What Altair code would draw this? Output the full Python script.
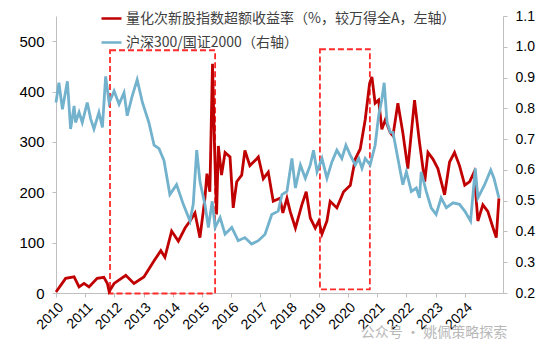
import altair as alt
import pandas as pd

red_label = "量化次新股指数超额收益率（%，较万得全A，左轴）"
blue_label = "沪深300/国证2000（右轴）"

red_year = [2010.00, 2010.33, 2010.62, 2010.79, 2010.96, 2011.13, 2011.41, 2011.64, 2011.76, 2011.82,
            2011.99, 2012.39, 2012.67, 2013.01, 2013.36, 2013.59, 2013.73, 2013.96, 2014.19, 2014.42,
            2014.59, 2014.76, 2014.93, 2015.10, 2015.17, 2015.27, 2015.36, 2015.43, 2015.50, 2015.56,
            2015.67, 2015.79, 2015.96, 2016.07, 2016.19, 2016.36, 2016.47, 2016.64, 2016.87, 2016.93,
            2017.10, 2017.27, 2017.44, 2017.67, 2017.77, 2017.91, 2018.02, 2018.20, 2018.42, 2018.57,
            2018.71, 2018.88, 2019.00, 2019.11, 2019.28, 2019.39, 2019.62, 2019.85, 2020.08, 2020.25,
            2020.42, 2020.59, 2020.74, 2020.82, 2020.93, 2021.05, 2021.16, 2021.28, 2021.45, 2021.54,
            2021.71, 2021.88, 2022.05, 2022.28, 2022.45, 2022.63, 2022.74, 2022.91, 2023.08, 2023.31,
            2023.48, 2023.65, 2023.82, 2024.00, 2024.17, 2024.32, 2024.45, 2024.62, 2024.79, 2024.97,
            2025.08, 2025.17]
red_value = [2, 29, 32, 12, 19, 12, 29, 31, 19, 3,
             19, 35, 19, 32, 64, 84, 71, 123, 103, 129,
             143, 159, 110, 188, 237, 201, 455, 290, 156, 292,
             234, 279, 270, 169, 221, 234, 283, 253, 266, 270,
             227, 240, 182, 188, 159, 188, 162, 129, 175, 201,
             149, 129, 143, 117, 143, 182, 169, 201, 214, 266,
             286, 344, 416, 429, 377, 383, 325, 344, 318, 312,
             377, 318, 247, 383, 299, 221, 279, 266, 247, 195,
             260, 279, 253, 214, 221, 240, 143, 175, 162, 129,
             110, 188]

blue_year = [2010.00, 2010.10, 2010.22, 2010.39, 2010.50, 2010.62, 2010.67, 2010.79, 2010.90, 2011.07,
             2011.19, 2011.30, 2011.47, 2011.59, 2011.70, 2011.82, 2011.99, 2012.16, 2012.33, 2012.44,
             2012.61, 2012.78, 2012.96, 2013.18, 2013.36, 2013.53, 2013.70, 2013.90, 2014.13, 2014.36,
             2014.59, 2014.70, 2014.82, 2014.93, 2015.10, 2015.22, 2015.35, 2015.45, 2015.62, 2015.79,
             2016.02, 2016.24, 2016.47, 2016.70, 2016.93, 2017.16, 2017.39, 2017.61, 2017.74, 2017.91,
             2018.08, 2018.20, 2018.37, 2018.54, 2018.71, 2018.82, 2018.94, 2019.11, 2019.28, 2019.45,
             2019.62, 2019.79, 2019.93, 2020.08, 2020.25, 2020.37, 2020.48, 2020.59, 2020.76, 2020.93,
             2021.05, 2021.16, 2021.24, 2021.34, 2021.45, 2021.54, 2021.71, 2021.88, 2022.00, 2022.17,
             2022.34, 2022.45, 2022.51, 2022.68, 2022.85, 2023.02, 2023.19, 2023.37, 2023.60, 2023.82,
             2024.00, 2024.20, 2024.36, 2024.45, 2024.68, 2024.89, 2025.00, 2025.17]
blue_value = [0.819, 0.883, 0.797, 0.888, 0.733, 0.808, 0.754, 0.787, 0.754, 0.819,
              0.765, 0.733, 0.787, 0.738, 0.904, 0.819, 0.856, 0.813, 0.851, 0.776,
              0.840, 0.893, 0.819, 0.754, 0.680, 0.669, 0.630, 0.520, 0.552, 0.488,
              0.434, 0.488, 0.664, 0.562, 0.488, 0.413, 0.498, 0.413, 0.445, 0.391,
              0.413, 0.370, 0.380, 0.359, 0.370, 0.391, 0.455, 0.466, 0.520, 0.530,
              0.637, 0.541, 0.616, 0.573, 0.616, 0.664, 0.594, 0.637, 0.573, 0.626,
              0.664, 0.637, 0.680, 0.648, 0.616, 0.637, 0.605, 0.637, 0.616, 0.680,
              0.776, 0.829, 0.883, 0.754, 0.722, 0.722, 0.637, 0.552, 0.594, 0.530,
              0.541, 0.509, 0.594, 0.530, 0.477, 0.455, 0.509, 0.477, 0.493, 0.488,
              0.466, 0.434, 0.605, 0.509, 0.552, 0.600, 0.573, 0.509]

box_start = [2011.85, 2019.04]
box_end = [2015.45, 2020.75]
box_low = [-1, 7]
box_high = [482, 484]

year_ticks = list(range(2010, 2025))
left_ticks = [0, 100, 200, 300, 400, 500]
right_ticks = [0.2, 0.3, 0.4, 0.5, 0.6, 0.7, 0.8, 0.9, 1.0, 1.1]
watermark = "公众号 · 姚佩策略探索"

RED = "#C00000"
BLUE = "#72B2CD"
AXIS_FONT = "Liberation Sans"
CJK = "Noto Sans CJK SC"

red_df = pd.DataFrame({"year": red_year, "value": red_value, "series": red_label})
blue_df = pd.DataFrame({"year": blue_year, "value": blue_value, "series": blue_label})
box_df = pd.DataFrame({"x": box_start, "x2": box_end, "y": box_low, "y2": box_high})
wm_df = pd.DataFrame({"t": [watermark]})

xscale = alt.Scale(domain=[2010, 2025.31], nice=False, zero=False)
xaxis = alt.Axis(values=year_ticks, format="d", labelAngle=-45, labelFontSize=14,
                 labelFont=AXIS_FONT, labelColor="#000000", title=None, labelOverlap=False,
                 domainColor="#BFBFBF", tickColor="#BFBFBF", tickSize=4, labelPadding=3)

color_scale = alt.Scale(domain=[red_label, blue_label], range=[RED, BLUE])
legend = alt.Legend(title=None, orient="none", legendX=44, legendY=-9, direction="vertical",
                    symbolType="stroke", symbolSize=400, symbolStrokeWidth=2.5,
                    labelFont=CJK, labelFontSize=14, labelColor="#404040",
                    rowPadding=5, padding=0, labelOffset=3, labelLimit=600)

boxes = alt.Chart(box_df).mark_rect(fillOpacity=0, stroke="#FF2A2A", strokeDash=[6, 3],
                                    strokeWidth=1.8).encode(
    x=alt.X("x:Q", scale=xscale, axis=xaxis),
    x2="x2:Q",
    y=alt.Y("y:Q", scale=alt.Scale(domain=[0, 550], nice=False), axis=None),
    y2="y2:Q",
)

red = alt.Chart(red_df).mark_line(strokeWidth=2.8).encode(
    x=alt.X("year:Q", scale=xscale, axis=xaxis),
    y=alt.Y("value:Q", scale=alt.Scale(domain=[0, 550], nice=False),
            axis=alt.Axis(orient="left", values=left_ticks, title=None, labelFontSize=15,
                          labelFont=AXIS_FONT, labelColor="#000000", domainColor="#BFBFBF",
                          tickColor="#BFBFBF", tickSize=4, labelPadding=8)),
    color=alt.Color("series:N", scale=color_scale, legend=legend, sort=[red_label, blue_label]),
)

blue = alt.Chart(blue_df).mark_line(strokeWidth=2.8).encode(
    x=alt.X("year:Q", scale=xscale, axis=xaxis),
    y=alt.Y("value:Q", scale=alt.Scale(domain=[0.2, 1.1], nice=False, zero=False),
            axis=alt.Axis(orient="right", values=right_ticks, format=".1f", title=None,
                          labelFontSize=14, labelFont=AXIS_FONT, labelColor="#000000",
                          domainColor="#BFBFBF", tickColor="#BFBFBF", tickSize=4,
                          labelPadding=8)),
    color=alt.Color("series:N", scale=color_scale, legend=legend, sort=[red_label, blue_label]),
)

wm = alt.Chart(wm_df).mark_text(font=CJK, fontSize=14, color="#B8B8B8", align="center").encode(
    x=alt.value(378), y=alt.value(317), text="t:N")

chart = alt.layer(boxes, red, blue, wm).resolve_scale(y="independent").properties(
    width=447, height=277,
    autosize=alt.AutoSizeParams(type="none"),
    padding={"left": 48, "top": 8, "right": 39, "bottom": 55},
).configure_view(stroke=None).configure_axis(grid=False)

chart.save("out.html", embed_options={"renderer": "svg", "actions": False})
